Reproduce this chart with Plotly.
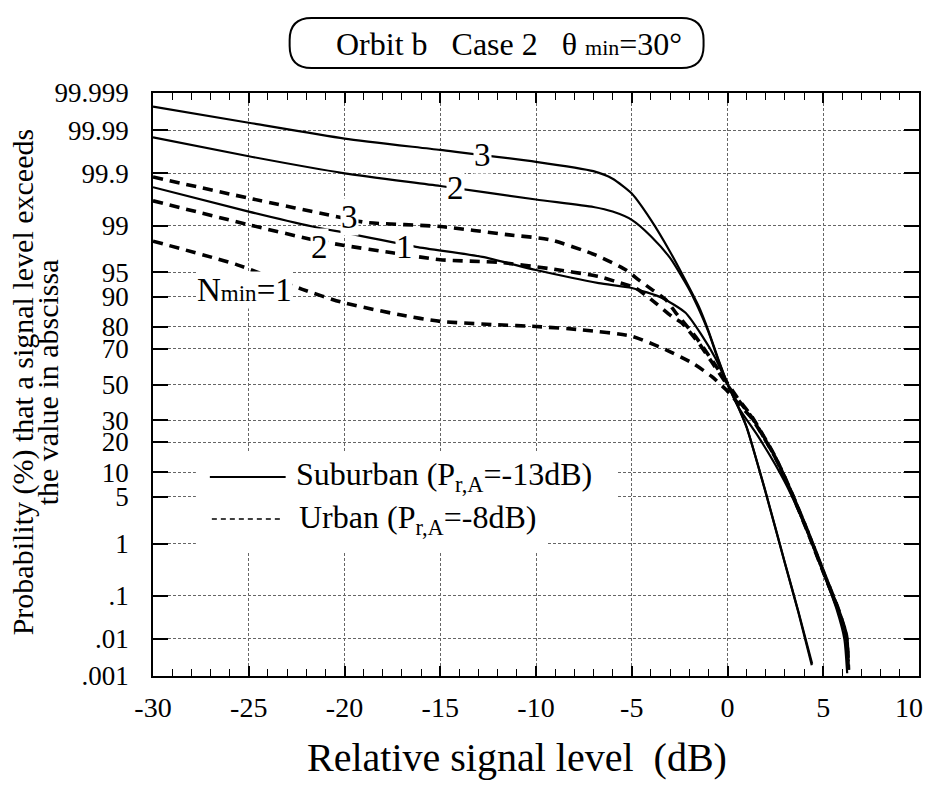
import plotly.graph_objects as go
from statistics import NormalDist

# ---------------- data (x: relative signal level dB, p: probability %) ----------------
sub3_x = [-30, -25, -20, -15, -10, -7, -6, -5, -4, -3, -2, -1.5, -1, -0.5, 0, 0.5, 1, 2, 3, 3.7, 4.4]
sub3_p = [99.9976, 99.9936, 99.984, 99.970, 99.944, 99.91, 99.87, 99.74, 99.2, 97.4, 92.2,
          87.3, 78.5, 65.0, 50.5, 38.5, 26.5, 5.6, 0.44, 0.043, 0.002]

sub2_x = [-30, -25, -20, -15, -10, -7, -6, -5, -4, -3, -2, -1.5, -1, -0.5, 0, 0.5, 1, 2, 3, 3.7, 4.42]
sub2_p = [99.985, 99.958, 99.90, 99.816, 99.66, 99.53, 99.43, 99.2, 98.5, 96.8, 91.8,
          86.5, 78.0, 64.5, 50.5, 38.7, 26.7, 5.7, 0.45, 0.045, 0.0022]

sub1_x = [-30, -25, -21.67, -20, -16.27, -12.8, -10, -6.72, -5, -3.44, -2.19, -1.35, -0.63,
          -0.1, 0.57, 1.6, 2.5, 3.3, 4.2, 5.0, 5.7, 6.1, 6.25]
sub1_p = [99.805, 99.43, 98.96, 98.68, 97.8, 96.9, 95.3, 93.1, 92.1, 89.8, 85.3, 76.5, 65.0,
          52.5, 37.0, 22.4, 12.0, 5.5, 1.5, 0.3, 0.05, 0.01, 0.0012]

urb3_x = [-30, -25, -20, -18.85, -15, -11.4, -9.3, -6.9, -5.3, -4.64, -3.96, -3.23, -2.7, -1.67,
          -0.83, 0.1, 0.6, 1.27, 2.48, 3.35, 4.22, 5.09, 5.78, 6.21, 6.3]
urb3_p = [99.88, 99.68, 99.25, 99.11, 98.96, 98.57, 98.3, 97.1, 95.3, 93.7, 91.8, 89.3, 85.3, 75.8,
          64.2, 49.0, 41.0, 32.0, 14.7, 5.7, 1.5, 0.26, 0.052, 0.012, 0.0016]

urb2_x = [-30, -25, -21.67, -20, -17.5, -15, -11.93, -9.3, -6.72, -5.83, -4.8, -3.75, -2.92, -2.4,
          -1.51, -0.83, 0.1, 0.6, 1.27, 2.48, 3.35, 4.22, 5.09, 5.78, 6.21, 6.32]
urb2_p = [99.64, 99.03, 98.3, 97.9, 97.3, 96.6, 96.3, 95.5, 94.3, 93.4, 92.1, 88.3, 84.1, 81.7,
          72.9, 63.0, 48.0, 40.5, 31.5, 14.5, 5.6, 1.45, 0.25, 0.05, 0.011, 0.0015]

urb1_x = [-30, -25.6, -22.2, -20.1, -17.1, -15, -12, -10, -7.6, -5, -3.23, -1.88, -0.83, 0.1,
          0.6, 1.27, 2.48, 3.35, 4.22, 5.09, 5.78, 6.21, 6.3]
urb1_p = [98.2, 96.0, 91.8, 88.5, 84.6, 82.2, 80.9, 80.2, 78.8, 76.0, 69.5, 62.6, 54.7, 45.0,
          38.5, 31.0, 14.5, 5.6, 1.5, 0.26, 0.05, 0.012, 0.0015]

y_tick_vals = [99.999, 99.99, 99.9, 99, 95, 90, 80, 70, 50, 30, 20, 10, 5, 1, 0.1, 0.01, 0.001]
y_tick_text = ["99.999", "99.99", "99.9", "99", "95", "90", "80", "70", "50", "30", "20",
               "10", "5", "1", ".1", ".01", ".001"]
x_tick_vals = [-30, -25, -20, -15, -10, -5, 0, 5, 10]
x_tick_text = ["-30", "-25", "-20", "-15", "-10", "-5", "0", "5", "10"]

label_text = ["3", "2", "3", "2", "1", "N<span style='font-size:23px'>min</span>=1"]
label_x = [-12.8, -14.18, -19.74, -21.3, -16.88, -25.2]
label_p = [99.961, 99.795, 99.30, 97.8, 97.8, 91.7]

# ---------------- helpers ----------------
nd = NormalDist()


def probit(p):
    return nd.inv_cdf(p / 100.0)


FONT = "Liberation Serif, Times New Roman, serif"
OFF = 8  # page body margin
W, H = 940 - 2 * OFF, 790 - 2 * OFF
PL, PT, PR, PB = 153, 93, 921, 676   # plot area in window pixels
L, T = PL - OFF, PT - OFF
R, B = W + OFF - PR, H + OFF - PB


def px(xp):
    return (xp - PL) / (PR - PL)


def py(yp):
    return (PB - yp) / (PB - PT)


fig = go.Figure()

solid = dict(color="black", width=2.2)
dashed = dict(color="black", width=3.6, dash="10px,7px")

for xs, ps, ln in [(sub3_x, sub3_p, solid), (sub2_x, sub2_p, solid), (sub1_x, sub1_p, solid),
                   (urb3_x, urb3_p, dashed), (urb2_x, urb2_p, dashed), (urb1_x, urb1_p, dashed)]:
    fig.add_trace(go.Scatter(x=xs, y=[probit(p) for p in ps], mode="lines",
                             line=dict(shape="spline", smoothing=0.6, **ln),
                             showlegend=False, hoverinfo="skip"))

ymin, ymax = probit(0.001), probit(99.999)

# the last x label sits at the right edge of the page; it is drawn as an
# annotation (nudged inward, as in the reference) so it is not clipped.
x_axis_text = x_tick_text[:-1] + [""]

fig.update_layout(
    width=W, height=H,
    margin=dict(l=L, r=R, t=T, b=B, pad=0),
    paper_bgcolor="white", plot_bgcolor="white",
    font=dict(family=FONT, color="black", size=26),
    showlegend=False,
    xaxis=dict(range=[-30, 10], tickvals=x_tick_vals, ticktext=x_axis_text,
               ticks="inside", ticklen=10, tickwidth=1.5, tickcolor="black",
               minor=dict(dtick=1, ticks="inside", ticklen=7, tickwidth=1.2,
                          tickcolor="black", showgrid=False),
               showline=True, linecolor="black", linewidth=1.8, mirror="allticks",
               showgrid=True, gridcolor="#666", griddash="3px,2px", gridwidth=1,
               zeroline=False, tickfont=dict(size=28), ticklabelstandoff=5),
    yaxis=dict(range=[ymin, ymax], tickvals=[probit(v) for v in y_tick_vals],
               ticktext=y_tick_text, ticks="inside", ticklen=15, tickwidth=1.5,
               tickcolor="black",
               showline=True, linecolor="black", linewidth=1.8, mirror="allticks",
               showgrid=True, gridcolor="#666", griddash="3px,2px", gridwidth=1,
               zeroline=False, tickfont=dict(size=27), ticklabelstandoff=17),
)

shapes = []
# title rounded box
x0, x1, y0, y1, r = 290, 705, 18, 68, 22
path = (f"M {px(x0 + r)} {py(y0)} L {px(x1 - r)} {py(y0)} "
        f"Q {px(x1)} {py(y0)} {px(x1)} {py(y0 + r)} L {px(x1)} {py(y1 - r)} "
        f"Q {px(x1)} {py(y1)} {px(x1 - r)} {py(y1)} L {px(x0 + r)} {py(y1)} "
        f"Q {px(x0)} {py(y1)} {px(x0)} {py(y1 - r)} L {px(x0)} {py(y0 + r)} "
        f"Q {px(x0)} {py(y0)} {px(x0 + r)} {py(y0)} Z")
shapes.append(dict(type="path", xref="paper", yref="paper", path=path,
                   line=dict(color="black", width=2), fillcolor="white"))
# legend background
shapes.append(dict(type="rect", xref="paper", yref="paper", x0=px(196), x1=px(618),
                   y0=py(452), y1=py(503), line=dict(width=0), fillcolor="white", layer="above"))
shapes.append(dict(type="rect", xref="paper", yref="paper", x0=px(196), x1=px(548),
                   y0=py(503), y1=py(553), line=dict(width=0), fillcolor="white", layer="above"))
shapes.append(dict(type="line", xref="paper", yref="paper", x0=px(210), x1=px(286),
                   y0=py(477), y1=py(477), line=dict(color="black", width=2), layer="above"))
shapes.append(dict(type="line", xref="paper", yref="paper", x0=px(212), x1=px(283),
                   y0=py(519), y1=py(519), line=dict(color="black", width=1.5, dash="5px,4px"),
                   layer="above"))
fig.update_layout(shapes=shapes)

ann = []
# curve labels
for t, xv, pv in zip(label_text, label_x, label_p):
    ann.append(dict(x=xv, y=probit(pv), xref="x", yref="y", text=t, showarrow=False,
                    xanchor="center", yanchor="middle",
                    font=dict(size=33, family=FONT), bgcolor="white", borderpad=0))
# last x tick label
ann.append(dict(x=x_tick_vals[-1], y=py(707), xref="x", yref="paper", text=x_tick_text[-1],
                showarrow=False, xanchor="center", yanchor="middle", xshift=-10,
                font=dict(size=28, family=FONT)))
# legend text
ann.append(dict(x=px(294), y=py(477), xref="paper", yref="paper", xanchor="left",
                yanchor="middle", showarrow=False, font=dict(size=32, family=FONT),
                text="Suburban (P<sub>r,A</sub>=-13dB)"))
ann.append(dict(x=px(297), y=py(519), xref="paper", yref="paper", xanchor="left",
                yanchor="middle", showarrow=False, font=dict(size=32, family=FONT),
                text="Urban (P<sub>r,A</sub>=-8dB)"))
# title
ann.append(dict(x=px(510), y=py(44), xref="paper", yref="paper", showarrow=False,
                xanchor="center", yanchor="middle",
                font=dict(size=32, family=FONT),
                text="Orbit b\u00a0\u00a0\u00a0Case 2\u00a0\u00a0\u00a0\u03b8 "
                     "<span style='font-size:22px'>min</span>=30°"))
# axis titles
ann.append(dict(x=px(518), y=py(757), xref="paper", yref="paper", showarrow=False,
                xanchor="center", yanchor="middle",
                font=dict(size=40, family=FONT), text="Relative signal level\u00a0\u00a0(dB)"))
ann.append(dict(x=px(23), y=py(382), xref="paper", yref="paper", showarrow=False,
                xanchor="center", yanchor="middle",
                textangle=-90, font=dict(size=30, family=FONT),
                text="Probability (%) that a signal level exceeds"))
ann.append(dict(x=px(47), y=py(382), xref="paper", yref="paper", showarrow=False,
                xanchor="center", yanchor="middle",
                textangle=-90, font=dict(size=30, family=FONT),
                text="the value in abscissa"))
fig.update_layout(annotations=ann)

fig.write_html("out.html")
